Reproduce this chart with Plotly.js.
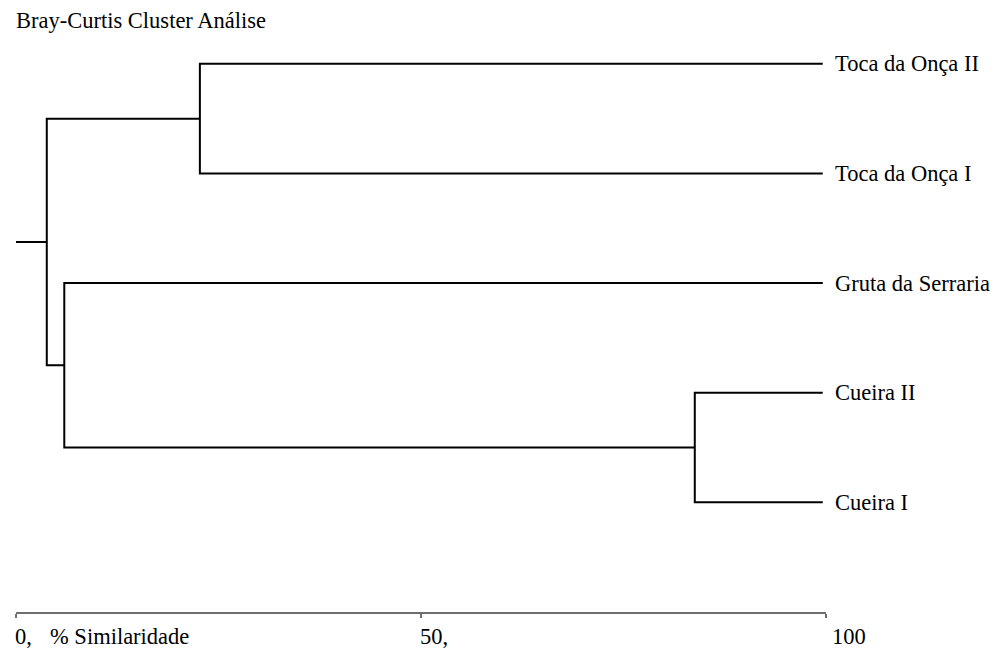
<!DOCTYPE html>
<html>
<head>
<meta charset="utf-8">
<script src="https://cdn.plot.ly/plotly-3.0.1.min.js"></script>
<style>html,body{margin:0;padding:0;background:#fff;}#chart{width:997px;height:648px;}</style>
</head>
<body>
<div id="chart"></div>
<script>
// Leaves (top to bottom) and their row positions
const leafLabels = ['Toca da Onça II', 'Toca da Onça I', 'Gruta da Serraria', 'Cueira II', 'Cueira I'];
const leafRows = [5, 4, 3, 2, 1];
const leafSimilarity = 99.6;
// Merge nodes: [childA, childB, % similarity]; children are leaf indices or node names
const mergeNames = ['A', 'C', 'B', 'root'];
const mergeLeft = [0, 3, 2, 'A'];
const mergeRight = [1, 4, 'C', 'B'];
const mergeSimilarity = [22.7, 83.8, 5.96, 3.8];
// Axis ticks
const tickValues = [0, 50, 100];
const tickLabels = ['0,', '50,', '100'];
const axisTitle = '% Similaridade';
const chartTitle = 'Bray-Curtis Cluster Análise';

const pos = {};
leafLabels.forEach((l, i) => { pos[i] = {x: leafSimilarity, y: leafRows[i]}; });
const xs = [], ys = [];
mergeNames.forEach((n, k) => {
  const a = pos[mergeLeft[k]], b = pos[mergeRight[k]];
  const s = mergeSimilarity[k];
  xs.push(a.x, s, s, b.x, null);
  ys.push(a.y, a.y, b.y, b.y, null);
  pos[n] = {x: s, y: (a.y + b.y) / 2};
});
// root stub to 0
xs.push(pos['root'].x, 0, null);
ys.push(pos['root'].y, pos['root'].y, null);

const font = '"Liberation Serif", serif';
const fs = 22.5;
const annotations = leafLabels.map((l, i) => ({
  x: leafSimilarity, y: leafRows[i], xref: 'x', yref: 'y', text: l, showarrow: false,
  xanchor: 'left', yanchor: 'middle', xshift: 10, font: {family: font, size: fs, color: '#000'}
}));
tickLabels.forEach((t, i) => {
  annotations.push({x: tickValues[i], y: 0, xref: 'x', yref: 'y', text: t, showarrow: false,
    xanchor: 'left', yanchor: 'middle', yshift: -24, xshift: i === 2 ? 4 : -3,
    font: {family: font, size: fs, color: '#000'}});
});
annotations.push({x: 34 / 810, y: -24 / 603, xref: 'paper', yref: 'paper', text: axisTitle, showarrow: false,
  xanchor: 'left', yanchor: 'middle', xshift: -2, font: {family: font, size: fs, color: '#000'}});

const trace = {x: xs, y: ys, mode: 'lines', type: 'scatter', cliponaxis: false,
  line: {color: '#000', width: 2}, hoverinfo: 'skip', showlegend: false};

const layout = {
  width: 997, height: 648,
  margin: {l: 16, r: 171, t: 9, b: 36},
  paper_bgcolor: '#fff', plot_bgcolor: '#fff',
  title: {text: chartTitle, x: 16 / 997, xanchor: 'left', xref: 'container', yref: 'container',
    y: 1 - 20 / 648, yanchor: 'middle', font: {family: font, size: fs, color: '#000'}},
  xaxis: {range: [0, 100], showgrid: false, zeroline: false, showline: true, linecolor: '#6e6e6e', linewidth: 2,
    ticks: 'outside', ticklen: 4, tickwidth: 2, tickcolor: '#6e6e6e', tickvals: tickValues, showticklabels: false, fixedrange: true},
  yaxis: {range: [0, 5.5], visible: false, fixedrange: true},
  annotations: annotations
};
Plotly.newPlot('chart', [trace], layout, {displayModeBar: false, staticPlot: true});
</script>
</body>
</html>
